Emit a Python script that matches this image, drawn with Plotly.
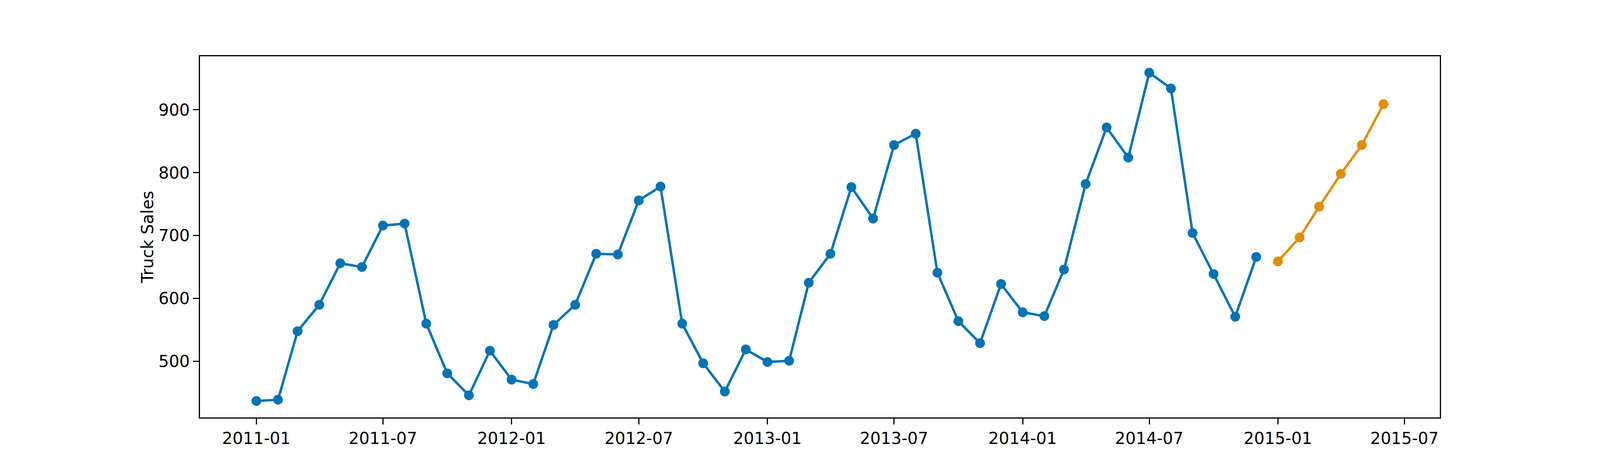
import pandas as pd
import plotly.graph_objects as go

hist_dates = pd.date_range("2011-01-01", periods=48, freq="MS")
hist_values = [437, 439, 548, 590, 656, 650, 716, 719, 560, 481, 446, 517,
               471, 464, 558, 590, 671, 670, 756, 778, 560, 497, 452, 519,
               499, 501, 625, 671, 777, 727, 844, 862, 641, 564, 529, 623,
               578, 572, 646, 782, 872, 824, 959, 934, 704, 639, 571, 666]

fc_dates = pd.date_range("2015-01-01", periods=6, freq="MS")
fc_values = [659, 697, 746, 798, 844, 909]

y_ticks = [500, 600, 700, 800, 900]
x_ticks = pd.date_range("2011-01-01", "2015-07-01", freq="6MS")
x_tick_labels = [d.strftime("%Y-%m") for d in x_ticks]

BLUE = "#0173b2"
ORANGE = "#de8f05"
FONT = "DejaVu Sans"

fig = go.Figure()
fig.add_trace(go.Scatter(x=hist_dates, y=hist_values, mode="lines+markers",
                         line=dict(color=BLUE, width=6.25),
                         marker=dict(color=BLUE, size=25), showlegend=False))
fig.add_trace(go.Scatter(x=fc_dates, y=fc_values, mode="lines+markers",
                         line=dict(color=ORANGE, width=6.25),
                         marker=dict(color=ORANGE, size=25), showlegend=False))

all_vals = hist_values + fc_values
vmin, vmax = min(all_vals), max(all_vals)
ypad = (vmax - vmin) * 0.05
x0 = hist_dates[0]
x1 = fc_dates[-1]
xpad = (x1 - x0) * 0.05

fig.update_layout(
    width=4080, height=1184,
    margin=dict(l=504, r=402, t=136, b=124, pad=0),
    paper_bgcolor="white", plot_bgcolor="white",
    font=dict(family=FONT, size=42, color="black"),
    xaxis=dict(range=[x0 - xpad, x1 + xpad], tickvals=list(x_ticks), ticktext=x_tick_labels,
               showgrid=False, zeroline=False, showline=True, mirror=True,
               linecolor="black", linewidth=3.3, ticks="outside", ticklen=14.6,
               tickwidth=3.3, tickcolor="black", tickfont=dict(family=FONT, size=42)),
    yaxis=dict(range=[vmin - ypad, vmax + ypad], tickvals=y_ticks,
               showgrid=False, zeroline=False, showline=True, mirror=True,
               linecolor="black", linewidth=3.3, ticks="outside", ticklen=14.6,
               tickwidth=3.3, tickcolor="black", tickfont=dict(family=FONT, size=42),
               title=dict(text="Truck Sales", font=dict(family=FONT, size=42), standoff=0)),
)

fig.write_html("out.html")
